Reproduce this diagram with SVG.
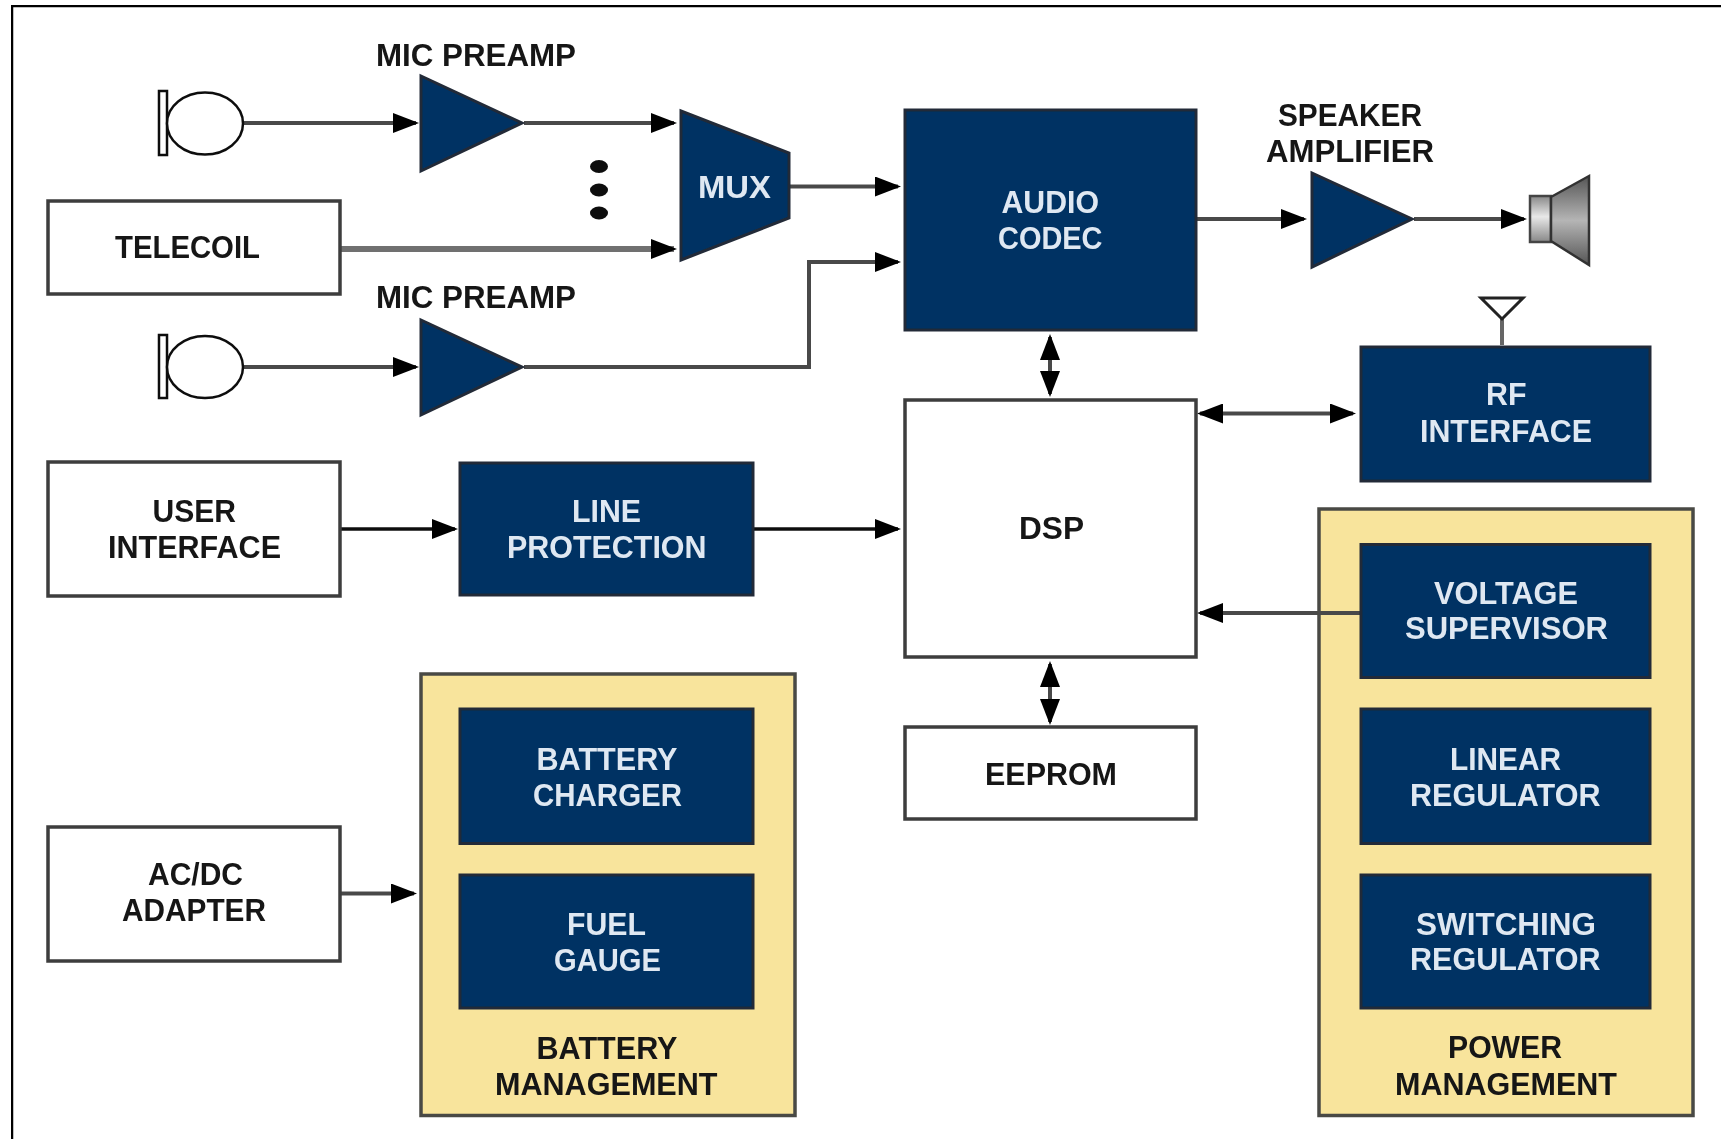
<svg xmlns="http://www.w3.org/2000/svg" width="1721" height="1139" viewBox="0 0 1721 1139">
<style>
.t{font-family:"Liberation Sans",Arial,sans-serif;font-weight:700;font-size:31px}
.d{fill:#161616}
.l{fill:#dfe8f2}
.navy{fill:#003263;stroke:#222b38;stroke-width:3}
.white{fill:#fff;stroke:#3c3c3c;stroke-width:3.5}
.yellow{fill:#f8e49c;stroke:#4a4a44;stroke-width:3.5}
.c{fill:none;stroke:#4a4a4a;stroke-width:4}
.k{fill:none;stroke:#111;stroke-width:3.5}
.g{fill:none;stroke:#707070;stroke-width:6}
</style>
<defs>
<marker id="a" markerUnits="userSpaceOnUse" viewBox="0 0 26 20" markerWidth="26" markerHeight="20" refX="23" refY="10" orient="auto-start-reverse"><path d="M0 0L26 10L0 20Z" fill="#000"/></marker>
<linearGradient id="sp" x1="0" y1="0" x2="0" y2="1"><stop offset="0" stop-color="#555"/><stop offset=".5" stop-color="#b5b5b5"/><stop offset="1" stop-color="#555"/></linearGradient>
<linearGradient id="sq" x1="0" y1="0" x2="0" y2="1"><stop offset="0" stop-color="#888"/><stop offset=".45" stop-color="#e8e8e8"/><stop offset="1" stop-color="#888"/></linearGradient>
<filter id="soft" x="0" y="0" width="100%" height="100%"><feGaussianBlur stdDeviation="0.7"/></filter>
</defs>
<rect width="1721" height="1139" fill="#fff"/>
<g filter="url(#soft)">
<path id="frame" d="M11 1139V5H1721" fill="none" stroke="#000" stroke-width="4.500"/>

<g id="connectors">
<path class="c" d="M243 123H416" marker-end="url(#a)"/>
<path class="c" d="M524 123H674" marker-end="url(#a)"/>
<path class="g" d="M340 249H674" marker-end="url(#a)"/>
<path class="c" d="M243 367H416" marker-end="url(#a)"/>
<path class="c" d="M524 367H809V262H898" marker-end="url(#a)"/>
<path class="c" d="M789 186.500H898" marker-end="url(#a)"/>
<path class="c" d="M1196 219H1304" marker-end="url(#a)"/>
<path class="c" d="M1414 219H1524" marker-end="url(#a)"/>
<path class="c" d="M1050 337V394" marker-start="url(#a)" marker-end="url(#a)"/>
<path class="c" d="M1200 413.500H1353" marker-start="url(#a)" marker-end="url(#a)"/>
<path class="k" d="M340 529H455" marker-end="url(#a)"/>
<path class="k" d="M753 529H898" marker-end="url(#a)"/>
<path class="c" d="M1360 613H1200" marker-end="url(#a)"/>
<path class="c" d="M1050 664V722" marker-start="url(#a)" marker-end="url(#a)"/>
<path class="c" d="M340 893.500H414" marker-end="url(#a)"/>
</g>

<g id="mic1"><rect x="159" y="91" width="8" height="64" fill="#fff" stroke="#111" stroke-width="2.500"/><ellipse cx="205" cy="123.500" rx="38" ry="31" fill="#fff" stroke="#111" stroke-width="2.500"/></g>
<g id="mic2"><rect x="159" y="335" width="8" height="63" fill="#fff" stroke="#111" stroke-width="2.500"/><ellipse cx="205" cy="367" rx="38" ry="31" fill="#fff" stroke="#111" stroke-width="2.500"/></g>

<g id="preamp1"><path class="navy" d="M421 76V171L522 123Z"/><text class="t d" x="376" y="66" textLength="200" lengthAdjust="spacingAndGlyphs">MIC PREAMP</text></g>
<g id="preamp2"><path class="navy" d="M421 320V415L522 367Z"/><text class="t d" x="376" y="308" textLength="200" lengthAdjust="spacingAndGlyphs">MIC PREAMP</text></g>

<g id="dots"><ellipse cx="599" cy="166.500" rx="9" ry="6.500" fill="#0a0a0a"/><ellipse cx="599" cy="190" rx="9" ry="6.500" fill="#0a0a0a"/><ellipse cx="599" cy="213" rx="9" ry="6.500" fill="#0a0a0a"/></g>

<g id="mux"><path class="navy" d="M681 111V260L789 218V153Z"/><text class="t l" x="698" y="198" textLength="73" lengthAdjust="spacingAndGlyphs">MUX</text></g>

<g id="telecoil"><rect class="white" x="48" y="201" width="292" height="93"/><text class="t d" x="115" y="257.500" textLength="145" lengthAdjust="spacingAndGlyphs">TELECOIL</text></g>

<g id="codec"><rect class="navy" x="905" y="110" width="291" height="220"/><text class="t l" x="1001.500" y="213" textLength="97.500" lengthAdjust="spacingAndGlyphs">AUDIO</text><text class="t l" x="998" y="249" textLength="104.500" lengthAdjust="spacingAndGlyphs">CODEC</text></g>

<g id="speakeramp"><path class="navy" d="M1312 173V267L1412 219Z"/><text class="t d" x="1278" y="126" textLength="144" lengthAdjust="spacingAndGlyphs">SPEAKER</text><text class="t d" x="1266" y="162" textLength="168" lengthAdjust="spacingAndGlyphs">AMPLIFIER</text></g>

<g id="speaker"><rect x="1530" y="196" width="21" height="46" fill="url(#sq)" stroke="#444" stroke-width="2.500"/><path d="M1551 197L1589 176V265L1551 241Z" fill="url(#sp)" stroke="#333" stroke-width="2.500"/></g>

<g id="antenna"><path d="M1502 319V345" stroke="#666" stroke-width="4" fill="none"/><path d="M1481 298H1523L1502 319Z" fill="#fff" stroke="#222" stroke-width="3"/></g>

<g id="rf"><rect class="navy" x="1361" y="347" width="289" height="134"/><text class="t l" x="1486" y="405" textLength="40.500" lengthAdjust="spacingAndGlyphs">RF</text><text class="t l" x="1420" y="441.500" textLength="172" lengthAdjust="spacingAndGlyphs">INTERFACE</text></g>

<g id="dsp"><rect class="white" x="905" y="400" width="291" height="257"/><text class="t d" x="1019" y="539" textLength="65" lengthAdjust="spacingAndGlyphs">DSP</text></g>

<g id="eeprom"><rect class="white" x="905" y="727" width="291" height="92"/><text class="t d" x="985" y="784.500" textLength="132" lengthAdjust="spacingAndGlyphs">EEPROM</text></g>

<g id="userif"><rect class="white" x="48" y="462" width="292" height="134"/><text class="t d" x="152.500" y="522" textLength="83.500" lengthAdjust="spacingAndGlyphs">USER</text><text class="t d" x="108" y="557.500" textLength="173" lengthAdjust="spacingAndGlyphs">INTERFACE</text></g>

<g id="lineprot"><rect class="navy" x="460" y="463" width="293" height="132"/><text class="t l" x="572" y="522" textLength="69" lengthAdjust="spacingAndGlyphs">LINE</text><text class="t l" x="507" y="557.500" textLength="199.500" lengthAdjust="spacingAndGlyphs">PROTECTION</text></g>

<g id="acdc"><rect class="white" x="48" y="827" width="292" height="134"/><text class="t d" x="148" y="885" textLength="95" lengthAdjust="spacingAndGlyphs">AC/DC</text><text class="t d" x="122" y="921" textLength="144" lengthAdjust="spacingAndGlyphs">ADAPTER</text></g>

<g id="battery"><rect class="yellow" x="421" y="674" width="374" height="441.500"/>
<text class="t d" x="536.500" y="1059" textLength="141" lengthAdjust="spacingAndGlyphs">BATTERY</text><text class="t d" x="495" y="1094.500" textLength="222.500" lengthAdjust="spacingAndGlyphs">MANAGEMENT</text></g>
<g id="charger"><rect class="navy" x="460" y="709" width="293" height="134.500"/><text class="t l" x="536.500" y="770" textLength="141" lengthAdjust="spacingAndGlyphs">BATTERY</text><text class="t l" x="533" y="806" textLength="149" lengthAdjust="spacingAndGlyphs">CHARGER</text></g>
<g id="fuel"><rect class="navy" x="460" y="875" width="293" height="133"/><text class="t l" x="567" y="935" textLength="79" lengthAdjust="spacingAndGlyphs">FUEL</text><text class="t l" x="554" y="971" textLength="107" lengthAdjust="spacingAndGlyphs">GAUGE</text></g>

<g id="power"><rect class="yellow" x="1319" y="509" width="374" height="606.500"/>
<text class="t d" x="1448" y="1058" textLength="114" lengthAdjust="spacingAndGlyphs">POWER</text><text class="t d" x="1395" y="1094.500" textLength="222" lengthAdjust="spacingAndGlyphs">MANAGEMENT</text></g>
<path id="supervisor-link" class="c" d="M1319 613H1361"/>
<g id="voltage"><rect class="navy" x="1361" y="544.500" width="289" height="133"/><text class="t l" x="1434" y="603.500" textLength="144" lengthAdjust="spacingAndGlyphs">VOLTAGE</text><text class="t l" x="1405" y="639" textLength="203" lengthAdjust="spacingAndGlyphs">SUPERVISOR</text></g>
<g id="linear"><rect class="navy" x="1361" y="709" width="289" height="134.500"/><text class="t l" x="1450" y="770" textLength="111" lengthAdjust="spacingAndGlyphs">LINEAR</text><text class="t l" x="1410" y="806" textLength="190.500" lengthAdjust="spacingAndGlyphs">REGULATOR</text></g>
<g id="switching"><rect class="navy" x="1361" y="875" width="289" height="133"/><text class="t l" x="1416" y="935" textLength="180" lengthAdjust="spacingAndGlyphs">SWITCHING</text><text class="t l" x="1410" y="970" textLength="190.500" lengthAdjust="spacingAndGlyphs">REGULATOR</text></g>
</g>
</svg>
